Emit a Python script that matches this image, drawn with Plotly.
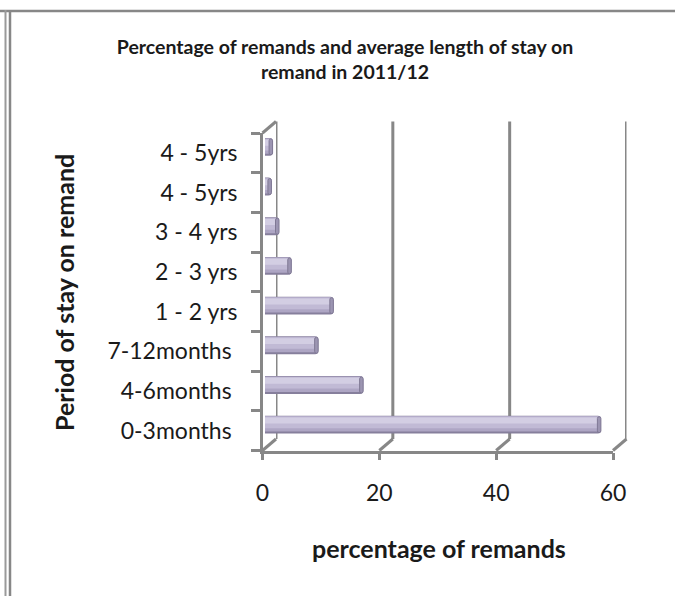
import plotly.graph_objects as go

# Remand periods, listed from the bottom of the chart to the top
periods = ["0-3months\u00a0", "4-6months\u00a0", "7-12months\u00a0", "1 - 2 yrs",
           "2 - 3 yrs", "3 - 4 yrs", "4 - 5yrs", "4 - 5yrs"]
pct_remands = [57.5, 16.8, 9.1, 11.7, 4.5, 2.4, 1.1, 1.3]
x_ticks = [0, 20, 40, 60]

W, H = 675, 596
FONT = "Lato"
GREY = "#878787"
TXT = "#1a1a1a"

# plot geometry in pixels: front plane, bar plane and back wall (pseudo 3-D)
FX0, FX1 = 262.5, 613.0      # x pixel of value 0 and 60 on the front plane
FY0, FY1 = 133.0, 450.5      # top / bottom of the category axis on the front plane
BAR_DX, BAR_DY = 2.5, -6.0   # bar plane offset
BACK_DX, BACK_DY = 13.5, -11.5  # back wall offset
XMAX = 60
CAP = 0.6                    # length of the darker cylinder end, in % units
npos = len(periods)
ypos = list(range(npos))


def dom_x(x0, x1):
    return [x0 / W, x1 / W]


def dom_y(y_top, y_bot):
    return [1 - y_bot / H, 1 - y_top / H]


def val_px(v):
    return FX0 + v * (FX1 - FX0) / XMAX


fig = go.Figure()

# invisible anchors so the front-plane axes are laid out and drawn
for ya in ("y", "y4"):
    fig.add_trace(go.Scatter(
        x=pct_remands, y=ypos, mode="markers", marker=dict(opacity=0),
        xaxis="x", yaxis=ya, showlegend=False, hoverinfo="skip",
    ))

# cylinder-like bars built from overlaid layers
layers = [
    # (offset, width, colour)
    (-0.225, 0.45, "#867f9c"),
    (-0.175, 0.39, "#aea6c4"),
    (-0.09, 0.29, "#c1bad5"),
    (0.03, 0.15, "#d3cee3"),
]
for i, (off, wid, col) in enumerate(layers):
    fig.add_trace(go.Bar(
        x=pct_remands, y=ypos, orientation="h",
        offset=off, width=wid,
        marker=dict(color=col, line=dict(width=0), cornerradius=3),
        xaxis="x2", yaxis="y2",
        showlegend=False,
        hoverinfo="x" if i == 0 else "skip",
    ))

# darker rounded end of each cylinder
cap_len = [min(CAP, v) for v in pct_remands]
fig.add_trace(go.Bar(
    x=cap_len, base=[v - c for v, c in zip(pct_remands, cap_len)],
    y=ypos, orientation="h", offset=-0.2, width=0.4,
    marker=dict(color="#9c95b2", line=dict(color="#7f7894", width=1),
                cornerradius=3),
    xaxis="x2", yaxis="y2", showlegend=False, hoverinfo="skip",
))

shapes = []
line_style = dict(color=GREY, width=3)

# back wall vertical lines
for v in x_ticks:
    shapes.append(dict(type="line", xref="x3", yref="y3 domain",
                       x0=v, x1=v, y0=0, y1=1, line=line_style, layer="below"))

# depth edges joining the front axis to the back wall
for v in x_ticks:
    xf = val_px(v)
    shapes.append(dict(type="line", xref="paper", yref="paper",
                       x0=xf / W, y0=1 - FY1 / H,
                       x1=(xf + BACK_DX) / W, y1=1 - (FY1 + BACK_DY) / H,
                       line=line_style, layer="below"))
shapes.append(dict(type="line", xref="paper", yref="paper",
                   x0=FX0 / W, y0=1 - FY0 / H,
                   x1=(FX0 + BACK_DX) / W, y1=1 - (FY0 + BACK_DY) / H,
                   line=line_style, layer="below"))

# chart frame
shapes += [
    dict(type="line", xref="paper", yref="paper", x0=0, x1=1,
         y0=1 - 11 / H, y1=1 - 11 / H, line=dict(color=GREY, width=2.5)),
    dict(type="line", xref="paper", yref="paper", x0=5.5 / W, x1=5.5 / W,
         y0=0, y1=1 - 10 / H, line=dict(color="#9a9a9a", width=2)),
    dict(type="line", xref="paper", yref="paper", x0=10 / W, x1=10 / W,
         y0=0, y1=1 - 10 / H, line=dict(color=GREY, width=2.5)),
]

hidden = dict(visible=False, showgrid=False, zeroline=False, fixedrange=True,
              automargin=False)

fig.update_layout(
    width=W, height=H,
    margin=dict(l=0, r=0, t=0, b=0, pad=0, autoexpand=False),
    paper_bgcolor="white", plot_bgcolor="rgba(0,0,0,0)",
    barmode="overlay",
    showlegend=False,
    font=dict(family=FONT, color=TXT),
    title=dict(
        text="Percentage of remands and average length of stay on<br>remand in 2011/12",
        x=345 / W, xanchor="center", y=1 - 54 / H, yanchor="middle",
        font=dict(family=FONT, size=19.5, color=TXT, weight="bold"),
    ),
    # front plane: value axis with ticks and labels
    xaxis=dict(
        domain=dom_x(FX0, FX1), range=[0, XMAX], anchor="y",
        showline=True, linecolor=GREY, linewidth=2.5,
        ticks="outside", ticklen=7, tickwidth=2.5, tickcolor=GREY,
        tickvals=x_ticks, ticklabelstandoff=13,
        tickfont=dict(family=FONT, size=23, color=TXT),
        showgrid=False, zeroline=False, fixedrange=True, automargin=False,
    ),
    # front plane: category axis line with boundary ticks
    yaxis=dict(
        domain=dom_y(FY0, FY1), range=[-0.5, npos - 0.5], anchor="x",
        showline=True, linecolor=GREY, linewidth=2.5,
        ticks="outside", ticklen=9, tickwidth=2.5, tickcolor=GREY,
        tickvals=[k - 0.5 for k in range(npos + 1)],
        showticklabels=False, showgrid=False, zeroline=False, fixedrange=True,
        automargin=False,
    ),
    # category labels
    yaxis4=dict(
        overlaying="y", range=[-0.5, npos - 0.5], anchor="x", side="left",
        tickvals=ypos, ticktext=periods, ticks="",
        ticklabelstandoff=24,
        tickfont=dict(family=FONT, size=23, color=TXT),
        showline=False, showgrid=False, zeroline=False, fixedrange=True,
        automargin=False,
    ),
    # bar plane
    xaxis2=dict(domain=dom_x(FX0 + BAR_DX, FX1 + BAR_DX), range=[0, XMAX],
                anchor="y2", **hidden),
    yaxis2=dict(domain=dom_y(FY0 + BAR_DY, FY1 + BAR_DY), range=[-0.5, npos - 0.5],
                anchor="x2", **hidden),
    # back wall
    xaxis3=dict(domain=dom_x(FX0 + BACK_DX, FX1 + BACK_DX), range=[0, XMAX],
                anchor="y3", **hidden),
    yaxis3=dict(domain=dom_y(FY0 + BACK_DY, FY1 + BACK_DY), range=[-0.5, npos - 0.5],
                anchor="x3", **hidden),
    shapes=shapes,
    annotations=[
        dict(text="<b>percentage of remands</b>", xref="paper", yref="paper",
             x=439 / W, y=1 - 548 / H, xanchor="center", yanchor="middle",
             showarrow=False, font=dict(family=FONT, size=25, color=TXT)),
        dict(text="<b>Period of stay on remand</b>", xref="paper", yref="paper",
             x=64 / W, y=1 - 293 / H, xanchor="center", yanchor="middle",
             textangle=-90, showarrow=False,
             font=dict(family=FONT, size=25, color=TXT)),
    ],
)

# keep the page free of scrollbars so the full figure width is visible
page_js = ("document.documentElement.style.overflow='hidden';"
           "document.body.style.margin='0';document.body.style.overflow='hidden';")
fig.write_html("out.html", config={"displayModeBar": False}, post_script=page_js)
